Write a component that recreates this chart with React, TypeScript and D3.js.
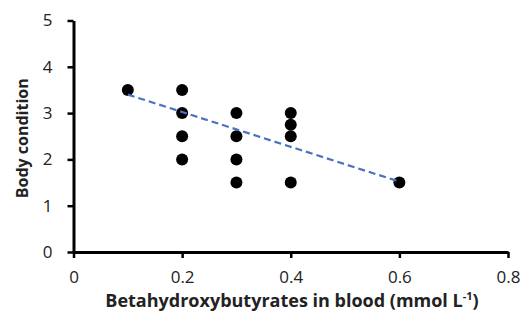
import { useEffect, useRef } from 'react'
import * as d3 from 'd3'

// values
const bhb = [0.1, 0.2, 0.2, 0.2, 0.2, 0.3, 0.3, 0.3, 0.3, 0.4, 0.4, 0.4, 0.4, 0.6]
const condition = [3.5, 3.5, 3, 2.5, 2, 3, 2.5, 2, 1.5, 3, 2.75, 2.5, 1.5, 1.5]
const trendX = [0.1, 0.6]
const trendY = [3.4, 1.52]
const xTicks = [0, 0.2, 0.4, 0.6, 0.8]
const yTicks = [0, 1, 2, 3, 4, 5]

const FONT = '"Open Sans", "Noto Sans", sans-serif'

const App = () => {
  const ref = useRef<SVGSVGElement | null>(null)

  useEffect(() => {
    if (!ref.current) return
    const svg = d3.select(ref.current)
    svg.selectAll('*').remove()

    const x = d3.scaleLinear().domain([0, 0.8]).range([73.5, 508])
    const y = d3.scaleLinear().domain([0, 5]).range([252, 20.5])

    const xAxis = svg
      .append('g')
      .attr('transform', `translate(0,${y(0)})`)
      .call(
        d3
          .axisBottom(x)
          .tickValues(xTicks)
          .tickSize(6)
          .tickSizeOuter(0)
          .tickPadding(13)
          .tickFormat((d) => (d === 0 ? '0' : `${d}`))
      )
    xAxis.select('.domain').attr('stroke', '#000').attr('stroke-width', 3)
    xAxis.selectAll('line').attr('stroke', '#000').attr('stroke-width', 2.5)
    xAxis
      .selectAll('text')
      .attr('font-family', FONT)
      .attr('font-size', 17)
      .attr('fill', '#222')

    const yAxis = svg
      .append('g')
      .attr('transform', `translate(${x(0)},0)`)
      .call(
        d3
          .axisLeft(y)
          .tickValues(yTicks)
          .tickSize(6)
          .tickSizeOuter(0)
          .tickPadding(15)
          .tickFormat((d) => `${d}`)
      )
    yAxis.select('.domain').attr('stroke', '#000').attr('stroke-width', 3)
    yAxis.selectAll('line').attr('stroke', '#000').attr('stroke-width', 2.5)
    yAxis
      .selectAll('text')
      .attr('font-family', FONT)
      .attr('font-size', 17)
      .attr('fill', '#222')

    svg
      .append('g')
      .selectAll('circle')
      .data(bhb.map((v, i) => ({ x: v, y: condition[i] })))
      .join('circle')
      .attr('cx', (d) => x(d.x))
      .attr('cy', (d) => y(d.y))
      .attr('r', 6)
      .attr('fill', '#000')

    const line = d3
      .line<number>()
      .x((d) => x(d))
      .y((_, i) => y(trendY[i]))
    svg
      .append('path')
      .datum(trendX)
      .attr('d', line)
      .attr('fill', 'none')
      .attr('stroke', '#4a72c0')
      .attr('stroke-width', 2.2)
      .attr('stroke-dasharray', '7,4')

    svg
      .append('text')
      .attr('transform', `translate(28,${y(2.5) + 2}) rotate(-90)`)
      .attr('text-anchor', 'middle')
      .attr('font-family', FONT)
      .attr('font-size', 16)
      .attr('font-weight', 'bold')
      .attr('fill', '#222')
      .text('Body condition')

    const xl = svg
      .append('text')
      .attr('x', 292)
      .attr('y', 307)
      .attr('text-anchor', 'middle')
      .attr('font-family', FONT)
      .attr('font-size', 18)
      .attr('font-weight', 'bold')
      .attr('fill', '#222')
    xl.append('tspan').text('Betahydroxybutyrates in blood (mmol L')
    xl.append('tspan').attr('font-size', 11).attr('dy', -7).text('-1')
    xl.append('tspan').attr('dy', 7).text(')')
  }, [])

  return (
    <svg
      ref={ref}
      width={529}
      height={323}
      style={{ position: 'absolute', left: 0, top: 0, background: '#fff' }}
    />
  )
}

export default App
